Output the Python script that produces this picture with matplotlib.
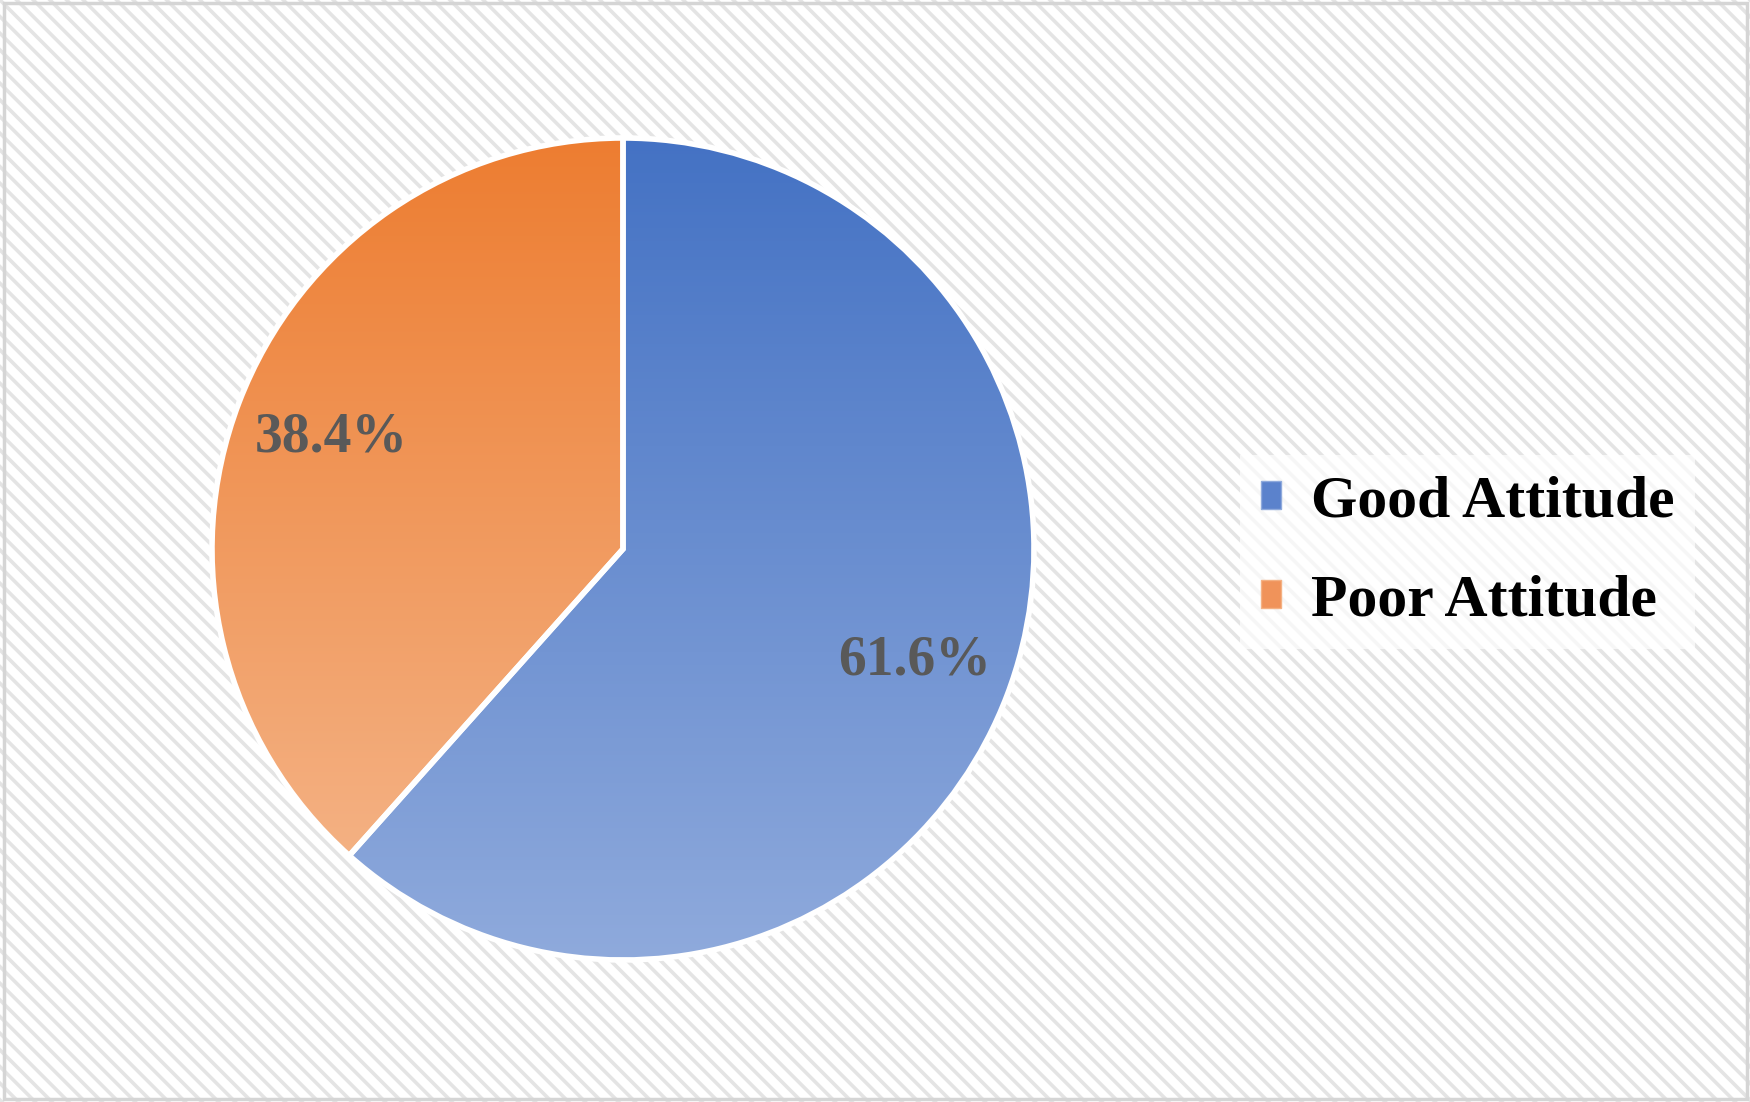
import matplotlib
matplotlib.use("Agg")
import matplotlib.pyplot as plt
import numpy as np
from matplotlib.patches import Rectangle, Patch
from matplotlib.colors import LinearSegmentedColormap

categories = ["Good Attitude", "Poor Attitude"]
values = [61.6, 38.4]
top_colors = ["#4472C4", "#ED7D31"]
bottom_colors = ["#8FAADC", "#F4B183"]
legend_colors = ["#5B82CC", "#F0935A"]

W, H = 1750, 1102
plt.rcParams['hatch.linewidth'] = 2.6
fig = plt.figure(figsize=(W / 100, H / 100), dpi=100)
fig.patch.set_facecolor("white")

bg = Rectangle((0, 0), 1, 1, transform=fig.transFigure, facecolor="white",
               edgecolor="#E4E4E4", linewidth=0, hatch="\\\\", zorder=-10)
fig.patches.append(bg)
border = Rectangle((0.002, 0.003), 0.996, 0.994, transform=fig.transFigure,
                   facecolor="none", edgecolor="#D5D5D5", linewidth=2.5, zorder=-9)
fig.patches.append(border)

ax = fig.add_axes([0, 0, 1, 1])
ax.set_facecolor("none")
cx, cy, r = 623, H - 549, 411

wedges, texts, autotexts = ax.pie(
    values, startangle=90, counterclock=False, center=(cx, cy), radius=r,
    autopct="%1.1f%%", pctdistance=0.76,
    wedgeprops=dict(edgecolor="white", linewidth=4),
    textprops=dict(family="Liberation Serif", fontweight="bold", fontsize=40, color="#595959"),
)
ax.set_xlim(0, W)
ax.set_ylim(0, H)
ax.set_aspect("equal")
ax.axis("off")

fig.canvas.draw()
for w, tc, bc in zip(wedges, top_colors, bottom_colors):
    w.set_facecolor("none")
    bb = w.get_path().get_extents(w.get_patch_transform())
    cmap = LinearSegmentedColormap.from_list("g", [bc, tc])
    grad = np.linspace(0, 1, 256).reshape(-1, 1)
    im = ax.imshow(grad, cmap=cmap, origin="lower", aspect="auto",
                   extent=(bb.x0, bb.x1, bb.y0, bb.y1), zorder=0.5)
    im.set_clip_path(w)
    w.set_zorder(1)
for t in autotexts:
    t.set_zorder(3)
ax.set_xlim(0, W)
ax.set_ylim(0, H)

handles = [Patch(facecolor=lc, edgecolor=bc, linewidth=1) for lc, bc in zip(legend_colors, bottom_colors)]
leg = ax.legend(handles, categories, loc="center left", bbox_to_anchor=(1210 / W, 1 - 552 / H),
                prop=dict(family="Liberation Serif", weight="bold", size=43),
                handlelength=0.34, handleheight=0.34, handletextpad=0.5,
                labelspacing=0.75, frameon=True, framealpha=0.7, facecolor="white",
                edgecolor="none", fancybox=False, borderpad=0.35)
for t in leg.get_texts():
    t.set_color("black")

fig.savefig("out.png", dpi=100)
